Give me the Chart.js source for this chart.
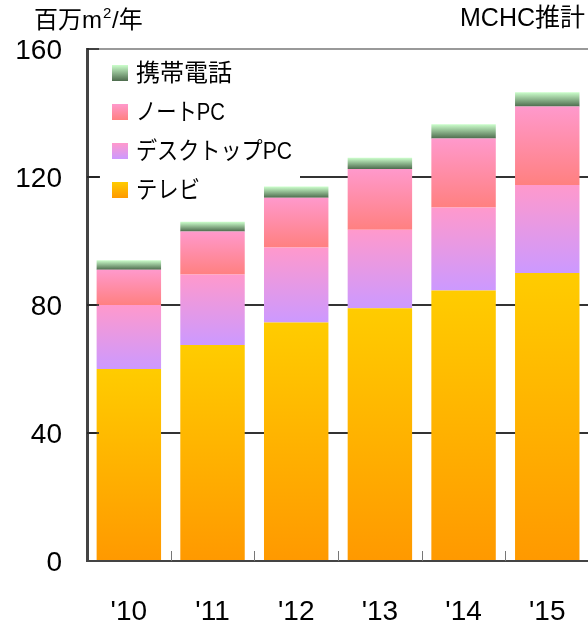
<!DOCTYPE html>
<html>
<head>
<meta charset="utf-8">
<script src="https://cdn.jsdelivr.net/npm/chart.js@4/dist/chart.umd.min.js"></script>
<style>
  html, body { margin: 0; padding: 0; background: #fff; overflow: hidden; }
  canvas { display: block; }
</style>
</head>
<body>
<canvas id="area" width="600" height="621"></canvas>
<script>
const years = ["'10", "'11", "'12", "'13", "'14", "'15"];
const tv = [60, 67.5, 74.5, 79, 84.5, 90];
const desktop = [20, 22, 23.5, 24.5, 26, 27.5];
const notebook = [11, 13.5, 15.5, 19, 21.5, 24.5];
const phone = [3, 3, 3.5, 3.5, 4.5, 4.5];
const yTicks = [0, 40, 80, 120, 160];

const latin = '"Liberation Sans", Arial, "Noto Sans CJK JP", sans-serif';
const jp = '"Liberation Sans", "Noto Sans CJK JP", sans-serif';

// top colour -> bottom colour of each segment
const series = [
  { label: 'テレビ', data: tv, top: '#FFCC00', bottom: '#FF9900', w: 64 },
  { label: 'デスクトップPC', data: desktop, top: '#FF99CC', bottom: '#CC99FF', w: 156 },
  { label: 'ノートPC', data: notebook, top: '#FF99CC', bottom: '#FF8080', w: 89 },
  { label: '携帯電話', data: phone, top: '#CCFFCC', bottom: '#4D6B4D', w: 101 }
];

function segmentFill(ctx) {
  const s = series[ctx.datasetIndex];
  const chart = ctx.chart;
  if (ctx.type !== 'data' || !chart.chartArea) return s.top;
  const y = chart.scales.y;
  let start = 0;
  for (let k = 0; k < ctx.datasetIndex; k++) start += series[k].data[ctx.dataIndex];
  const end = start + s.data[ctx.dataIndex];
  const g = chart.ctx.createLinearGradient(0, y.getPixelForValue(end), 0, y.getPixelForValue(start));
  g.addColorStop(0, s.top);
  g.addColorStop(1, s.bottom);
  return g;
}

// legend sits on a white panel under the bars
const legendPanel = {
  id: 'legendPanel',
  beforeDatasetsDraw(chart) {
    const c = chart.ctx;
    c.save();
    c.fillStyle = '#fff';
    c.fillRect(100, 56, 200, 150);
    series.slice().reverse().forEach((s, i) => {
      const cy = 73 + i * 39;
      const g = c.createLinearGradient(0, cy - 8, 0, cy + 8);
      g.addColorStop(0, s.top);
      g.addColorStop(1, s.bottom);
      c.fillStyle = g;
      c.fillRect(112, cy - 8, 16, 16);
      c.fillStyle = '#000';
      c.font = '24px ' + jp;
      c.textBaseline = 'middle';
      c.textAlign = 'left';
      c.fillText(s.label, 136, cy + 1, s.w);
    });
    c.restore();
  }
};

// inward tick marks and header texts
const extras = {
  id: 'extras',
  afterDatasetsDraw(chart) {
    const c = chart.ctx;
    const x = chart.scales.x, y = chart.scales.y;
    const area = chart.chartArea;
    c.save();

    c.strokeStyle = '#222';
    c.lineWidth = 1.5;
    yTicks.slice(1).forEach(v => {
      const py = y.getPixelForValue(v);
      c.beginPath();
      c.moveTo(area.left, py);
      c.lineTo(area.left + 12, py);
      c.stroke();
    });

    c.strokeStyle = '#777';
    c.lineWidth = 1;
    for (let i = 0; i < years.length - 1; i++) {
      const px = Math.round(x.getPixelForValue(i + 0.5)) + 0.5;
      c.beginPath();
      c.moveTo(px, area.bottom - 10);
      c.lineTo(px, area.bottom);
      c.stroke();
    }

    c.fillStyle = '#000';
    c.textBaseline = 'middle';
    c.textAlign = 'left';
    c.font = '24px ' + jp;
    c.fillText('百万m', 34, 21);
    let wx = 34 + c.measureText('百万m').width;
    c.font = '15px ' + latin;
    c.fillText('2', wx + 1, 14);
    wx += 10;
    c.font = '24px ' + jp;
    c.fillText('/年', wx, 21);

    c.textAlign = 'right';
    c.font = '25px ' + jp;
    c.fillText('MCHC推計', 585, 19);
    c.restore();
  }
};

new Chart(document.getElementById('area'), {
  type: 'bar',
  data: {
    labels: years,
    datasets: series.map(s => ({
      label: s.label,
      data: s.data,
      backgroundColor: segmentFill,
      borderWidth: 0,
      categoryPercentage: 1,
      barPercentage: 0.77
    }))
  },
  options: {
    responsive: false,
    animation: false,
    devicePixelRatio: 1,
    layout: { padding: { top: 49, right: 6, left: 0, bottom: 0 } },
    plugins: { legend: { display: false }, tooltip: { enabled: false } },
    scales: {
      x: {
        stacked: true,
        grid: { display: false, drawTicks: false },
        border: { color: '#444', width: 2 },
        ticks: { font: { family: latin, size: 28 }, color: '#000', padding: 34 },
        afterFit(scale) { scale.height = 60; }
      },
      y: {
        stacked: true,
        min: 0,
        max: 160,
        afterBuildTicks(scale) { scale.ticks = yTicks.map(v => ({ value: v })); },
        grid: {
          drawTicks: false,
          lineWidth: 2,
          color: ctx => ctx.tick && ctx.tick.value === 160 ? '#999' : (ctx.tick && ctx.tick.value === 0 ? 'rgba(0,0,0,0)' : '#333')
        },
        border: { color: '#444', width: 3 },
        ticks: { font: { family: latin, size: 28 }, color: '#000', padding: 25, labelOffset: 2 },
        afterFit(scale) { scale.width = 87; }
      }
    }
  },
  plugins: [legendPanel, extras]
});
</script>
</body>
</html>
